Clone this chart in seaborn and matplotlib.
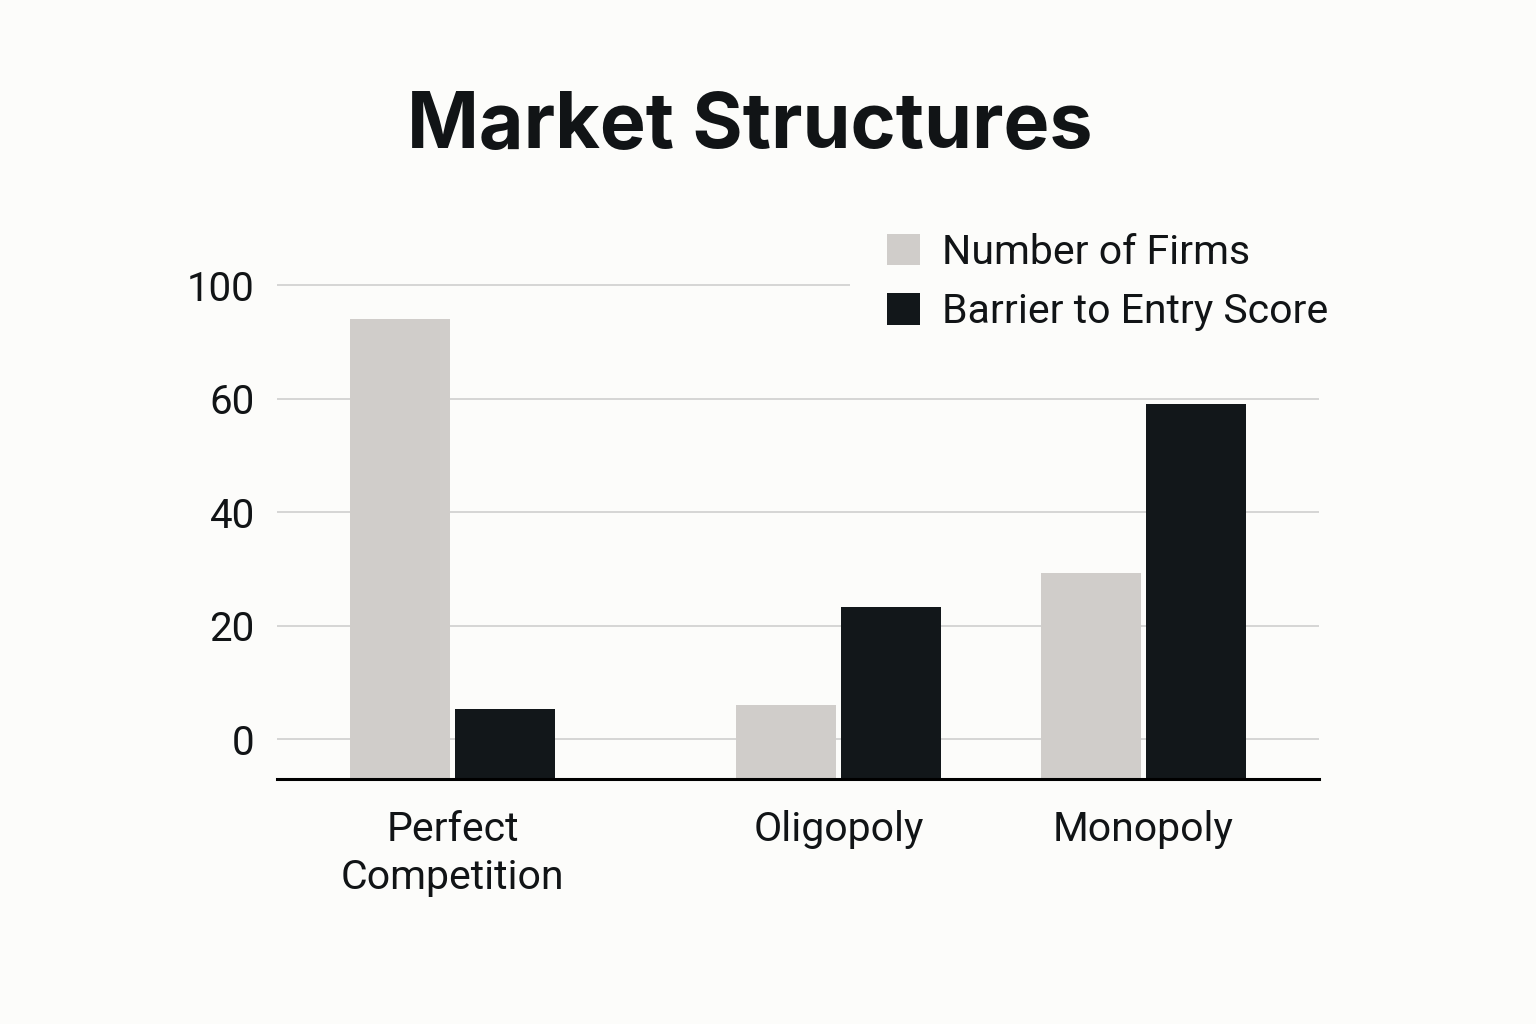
import numpy as np
import pandas as pd
import matplotlib.pyplot as plt
import seaborn as sns

# Data (values in axis units)
categories = ["Perfect\nCompetition", "Oligopoly", "Monopoly"]
series_names = ["Number of Firms", "Barrier to Entry Score"]
number_of_firms = [74, 6, 29.2]
barrier_scores = [5.3, 23.3, 59]
tick_values = [0, 20, 40, 60, 80]
tick_labels = ["0", "20", "40", "60", "100"]

# Layout: the groups are not evenly spaced in the reference
category_positions = [0.0, 1.0, 1.788]
BASELINE = -7.0

LIGHT = "#d0cdca"
DARK = "#12171a"
BG = "#fcfcfa"
TEXT = "#111416"


def build_frame() -> pd.DataFrame:
    rows = []
    for name, values in zip(series_names, [number_of_firms, barrier_scores]):
        for pos, val in zip(category_positions, values):
            rows.append({"position": pos, "series": name, "value": val})
    return pd.DataFrame(rows)


def main() -> None:
    sns.set_style("white")
    plt.rcParams["font.family"] = ["Roboto", "DejaVu Sans"]

    df = build_frame()
    fig = plt.figure(figsize=(15.36, 10.24), dpi=100, facecolor=BG)
    ax = fig.add_axes([0.1803, 0.2393, 0.6784, 0.4934])
    ax.set_facecolor(BG)

    sns.barplot(
        data=df, x="position", y="value", hue="series", hue_order=series_names,
        palette=[LIGHT, DARK], native_scale=True, width=0.6895, gap=0.0476,
        saturation=1, errorbar=None, linewidth=0, ax=ax,
    )

    # bars start at the bottom spine, below the zero gridline
    for bar in ax.patches:
        bar.set_y(BASELINE)
        bar.set_height(bar.get_height() - BASELINE)

    handles, labels = ax.get_legend_handles_labels()
    if ax.get_legend() is not None:
        ax.get_legend().remove()

    ax.set_ylim(BASELINE, 82)
    ax.set_xlim(-0.454, 2.242)
    ax.set_yticks(tick_values, tick_labels)
    ax.set_xticks(category_positions, categories)
    ax.set_xlabel("")
    ax.set_ylabel("")
    ax.tick_params(axis="both", length=0, labelsize=29, colors=TEXT)
    ax.tick_params(axis="y", pad=16)
    ax.tick_params(axis="x", pad=22)
    for lbl in ax.get_xticklabels():
        lbl.set_linespacing(1.3)
        lbl.set_fontsize(29.5)

    ax.yaxis.grid(True, color="#d2d2d2", linewidth=1.3)
    ax.set_axisbelow(True)
    for side in ["top", "right", "left"]:
        ax.spines[side].set_visible(False)
    ax.spines["bottom"].set_color("#000000")
    ax.spines["bottom"].set_linewidth(2.2)

    leg = fig.legend(
        handles, labels, loc="upper left", bbox_to_anchor=(850 / 1536, 1 - 196 / 1024),
        fontsize=29.5, frameon=True, facecolor=BG, edgecolor="none", framealpha=1,
        handlelength=0.8, handleheight=0.8, handletextpad=0.55, labelspacing=0.5,
        borderpad=0.9, borderaxespad=0,
    )
    for text in leg.get_texts():
        text.set_color(TEXT)

    fig.text(0.488, 0.875, "Market Structures", ha="center", va="center",
             fontsize=55.5, fontweight="bold", color=TEXT,
             family=["Inter", "Roboto", "DejaVu Sans"])

    fig.savefig("out.png", dpi=100, facecolor=BG)
    plt.close(fig)


if __name__ == "__main__":
    main()
